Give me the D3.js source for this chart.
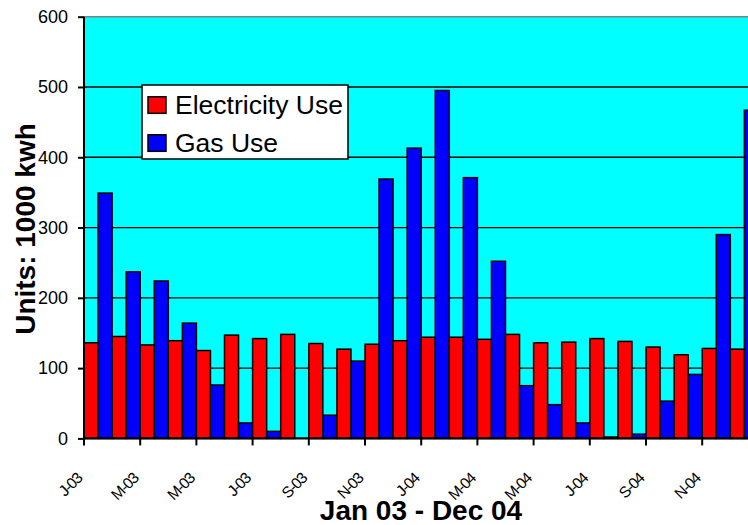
<!DOCTYPE html>
<html>
<head>
<meta charset="utf-8">
<script src="https://cdn.jsdelivr.net/npm/d3@7"></script>
<style>
  html, body { margin: 0; padding: 0; background: #fff; }
  svg { display: block; font-family: Arial, "Liberation Sans", sans-serif; }
</style>
</head>
<body>
<svg id="chart" width="748" height="525"></svg>
<script>
// Monthly consumption, Jan 2003 – Dec 2004 (units: 1000 kWh)
const months = ["Jan-03","Feb-03","Mar-03","Apr-03","May-03","Jun-03","Jul-03","Aug-03","Sep-03","Oct-03","Nov-03","Dec-03",
                "Jan-04","Feb-04","Mar-04","Apr-04","May-04","Jun-04","Jul-04","Aug-04","Sep-04","Oct-04","Nov-04","Dec-04"];
const electricity = [136, 145, 133, 139, 125, 147, 142, 148, 135, 127, 134, 139,
                     144, 144, 141, 148, 136, 137, 142, 138, 130, 119, 128, 127];
const gas = [349, 237, 224, 164, 76, 22, 10, 0, 33, 110, 369, 413,
             495, 371, 252, 75, 48, 22, 2, 6, 53, 91, 290, 467];
const seriesNames = ["Electricity Use", "Gas Use"];
const seriesColors = ["#ff0000", "#0000ff"];
const yTicks = [0, 100, 200, 300, 400, 500, 600];
// Axis shows every second month, abbreviated to its initial
const xTickLabels = ["J-03","M-03","M-03","J-03","S-03","N-03","J-04","M-04","M-04","J-04","S-04","N-04"];

const svg = d3.select("#chart");
const plotLeft = 84, plotTop = 16.7, plotBottom = 438.4, plotRight = 758.4;

const x = d3.scaleBand().domain(months).range([plotLeft, plotRight]).padding(0);
const xInner = d3.scaleBand().domain(seriesNames).range([0, x.bandwidth()]).padding(0);
const y = d3.scaleLinear().domain([0, 600]).range([plotBottom, plotTop]);

// plot area
svg.append("rect")
  .attr("x", plotLeft).attr("y", plotTop)
  .attr("width", plotRight - plotLeft).attr("height", plotBottom - plotTop)
  .attr("fill", "#00ffff");

// top border
svg.append("line")
  .attr("x1", plotLeft).attr("x2", plotRight)
  .attr("y1", plotTop).attr("y2", plotTop)
  .attr("stroke", "#808080").attr("stroke-width", 1.5);

// horizontal gridlines
svg.append("g")
  .selectAll("line")
  .data(yTicks.filter(t => t > 0 && t < 600))
  .join("line")
  .attr("x1", plotLeft).attr("x2", plotRight)
  .attr("y1", d => y(d)).attr("y2", d => y(d))
  .attr("stroke", "#000").attr("stroke-width", 1.3);

// bars
const rows = months.map((m, i) => ({ month: m, values: [electricity[i], gas[i]] }));
const groups = svg.append("g").selectAll("g")
  .data(rows)
  .join("g")
  .attr("transform", d => `translate(${x(d.month)},0)`);

groups.selectAll("rect")
  .data(d => d.values.map((v, j) => ({ series: seriesNames[j], value: v, color: seriesColors[j] })))
  .join("rect")
  .attr("x", d => xInner(d.series))
  .attr("y", d => y(d.value))
  .attr("width", xInner.bandwidth())
  .attr("height", d => y(0) - y(d.value))
  .attr("fill", d => d.color)
  .attr("stroke", "#000")
  .attr("stroke-width", 1.5);

// y axis
const yAxis = d3.axisLeft(y).tickValues(yTicks).tickSize(6).tickPadding(10).tickFormat(d3.format("d"));
const yg = svg.append("g").attr("transform", `translate(${plotLeft},0)`).call(yAxis);
yg.select(".domain").remove();
yg.selectAll(".tick line").attr("stroke", "#000").attr("stroke-width", 2);
yg.selectAll(".tick text").attr("font-size", 18).attr("fill", "#000")
  .attr("font-family", "Arial, 'Liberation Sans', sans-serif");
svg.append("line")
  .attr("x1", plotLeft).attr("x2", plotLeft).attr("y1", plotTop).attr("y2", plotBottom + 1)
  .attr("stroke", "#000").attr("stroke-width", 2);

// x axis: ticks every two months
const tickMonths = months.filter((m, i) => i % 2 === 0);
const labelFor = d3.scaleOrdinal().domain(tickMonths).range(xTickLabels);
const xg = svg.append("g");
xg.append("line")
  .attr("x1", plotLeft - 1).attr("x2", plotRight).attr("y1", plotBottom).attr("y2", plotBottom)
  .attr("stroke", "#000").attr("stroke-width", 2.2);
xg.selectAll("line.tick")
  .data(tickMonths)
  .join("line")
  .attr("class", "tick")
  .attr("x1", d => x(d)).attr("x2", d => x(d))
  .attr("y1", plotBottom).attr("y2", plotBottom + 7)
  .attr("stroke", "#000").attr("stroke-width", 2);
xg.selectAll("text")
  .data(tickMonths)
  .join("text")
  .attr("transform", d => `translate(${x(d) - 1},${plotBottom + 41}) rotate(-45)`)
  .attr("text-anchor", "end")
  .attr("font-size", 15.5)
  .attr("letter-spacing", -1.2)
  .attr("fill", "#000")
  .text(d => labelFor(d));

// axis titles
svg.append("text")
  .attr("x", 421).attr("y", 520)
  .attr("text-anchor", "middle")
  .attr("font-size", 28).attr("font-weight", "bold")
  .text("Jan 03 - Dec 04");

svg.append("text")
  .attr("transform", `translate(35,229) rotate(-90)`)
  .attr("text-anchor", "middle")
  .attr("font-size", 28).attr("font-weight", "bold")
  .text("Units: 1000 kwh");

// legend
const legend = svg.append("g");
legend.append("rect")
  .attr("x", 142).attr("y", 85).attr("width", 206).attr("height", 74)
  .attr("fill", "#fff").attr("stroke", "#000").attr("stroke-width", 1.5);
const legendRows = [{ name: seriesNames[0], color: seriesColors[0], y: 114.3 },
                    { name: seriesNames[1], color: seriesColors[1], y: 152.3 }];
legendRows.forEach(r => {
  legend.append("rect")
    .attr("x", 148).attr("y", r.y - 17.5).attr("width", 18).attr("height", 16.5)
    .attr("fill", r.color).attr("stroke", "#000").attr("stroke-width", 1.5);
  legend.append("text")
    .attr("x", 175).attr("y", r.y)
    .attr("font-size", 26.5).attr("fill", "#000")
    .text(r.name);
});
</script>
</body>
</html>
